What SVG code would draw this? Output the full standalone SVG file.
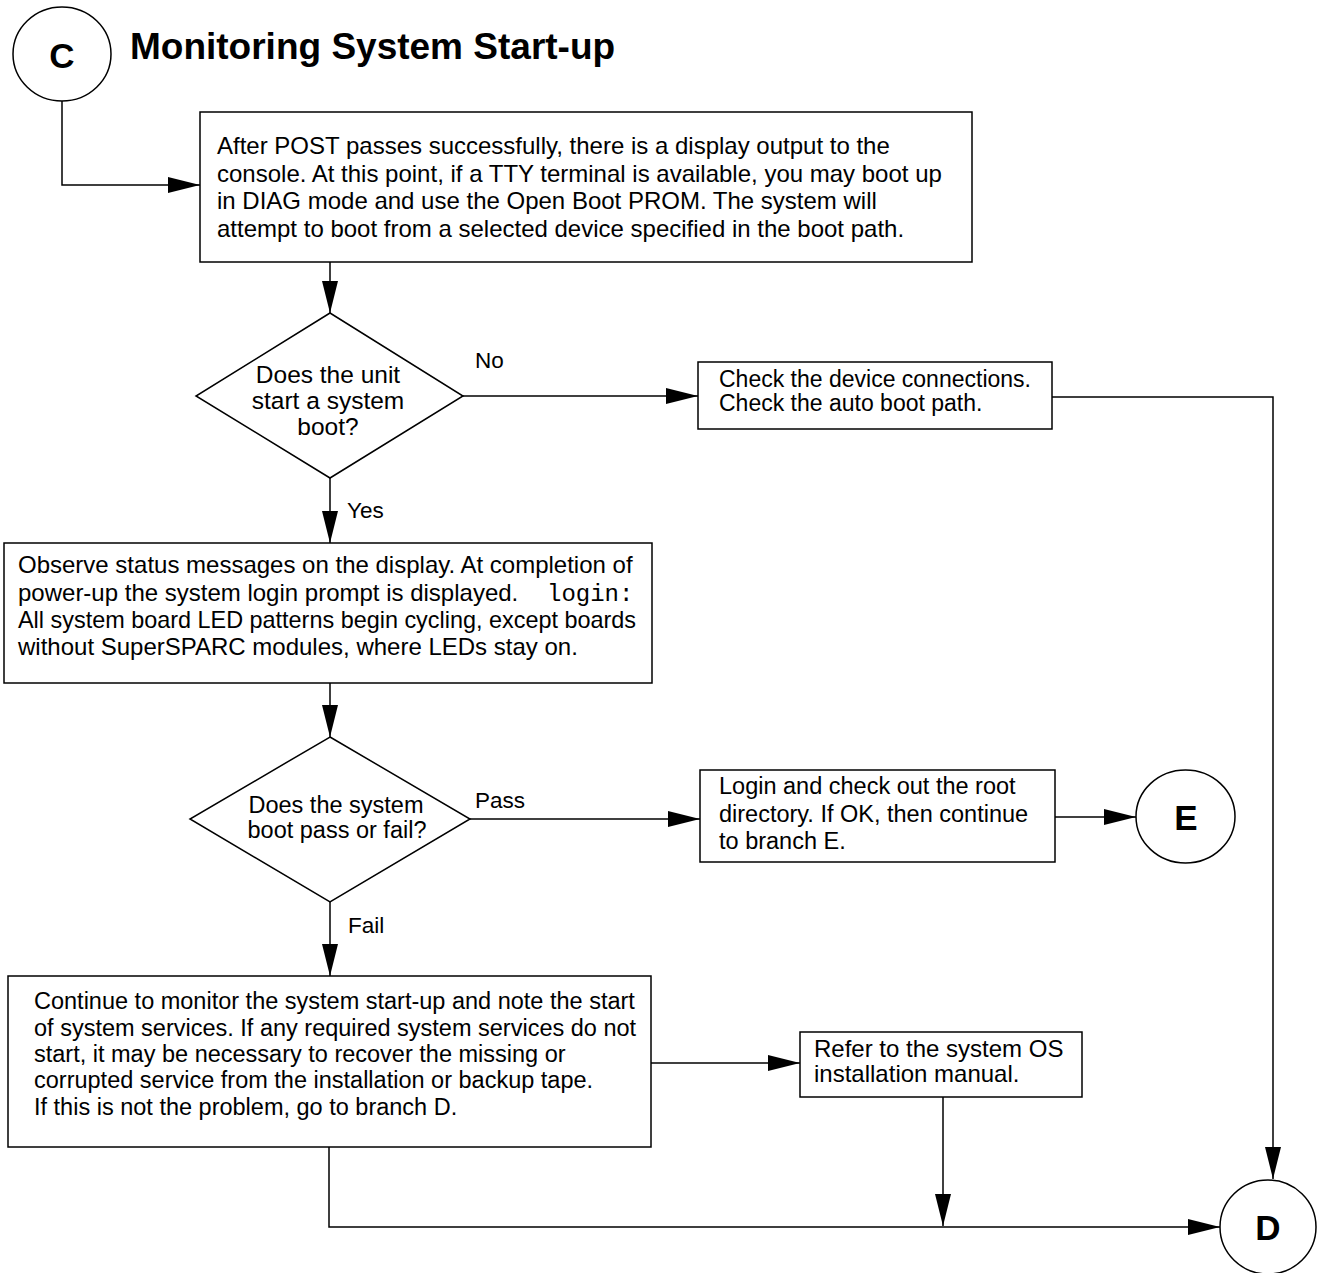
<svg xmlns="http://www.w3.org/2000/svg" width="1317" height="1273" viewBox="0 0 1317 1273">
<style>
.shape{fill:#fff;stroke:#000;stroke-width:1.5}
.conn{fill:none;stroke:#000;stroke-width:1.5}
text{font-family:"Liberation Sans",Arial,Helvetica,sans-serif;fill:#000}
.t{font-size:24px}
.t2{font-size:23.5px}
.lbl{font-size:22.5px}
.big{font-size:35px;font-weight:bold;text-anchor:middle}
.title{font-size:37px;font-weight:bold}
.mono{font-family:"Liberation Mono","Courier New",monospace}
.mid{text-anchor:middle}
</style>
<defs>
<marker id="arr" markerUnits="userSpaceOnUse" markerWidth="32" markerHeight="16" refX="32" refY="8" orient="auto">
<path d="M0,0 L32,8 L0,16 Z" fill="#000"/>
</marker>
</defs>
<text class="title" x="130" y="59">Monitoring System Start-up</text>
<g id="connectors">
<path class="conn" d="M62,100 V185 H200" marker-end="url(#arr)"/>
<path class="conn" d="M330,262 V313" marker-end="url(#arr)"/>
<path class="conn" d="M463,396 H698" marker-end="url(#arr)"/>
<path class="conn" d="M1052,397 H1273 V1179" marker-end="url(#arr)"/>
<path class="conn" d="M330,478 V543" marker-end="url(#arr)"/>
<path class="conn" d="M330,683 V737" marker-end="url(#arr)"/>
<path class="conn" d="M470,819 H700" marker-end="url(#arr)"/>
<path class="conn" d="M1055,817 H1136" marker-end="url(#arr)"/>
<path class="conn" d="M330,902 V976" marker-end="url(#arr)"/>
<path class="conn" d="M651,1063 H800" marker-end="url(#arr)"/>
<path class="conn" d="M943,1097 V1226" marker-end="url(#arr)"/>
<path class="conn" d="M329,1147 V1227 H1220" marker-end="url(#arr)"/>
<text class="lbl" x="475" y="368">No</text>
<text class="lbl" x="347" y="518">Yes</text>
<text class="lbl" x="475" y="808">Pass</text>
<text class="lbl" x="348" y="933">Fail</text>
</g>
<g id="nodeC">
<ellipse class="shape" cx="62" cy="54" rx="49" ry="47"/>
<text class="big" x="62" y="68">C</text>
</g>
<g id="box1">
<rect class="shape" x="200" y="112" width="772" height="150"/>
<text class="t" x="217" y="154">After POST passes successfully, there is a display output to the</text>
<text class="t" x="217" y="181.5">console. At this point, if a TTY terminal is available, you may boot up</text>
<text class="t" x="217" y="209">in DIAG mode and use the Open Boot PROM. The system will</text>
<text class="t" x="217" y="236.5">attempt to boot from a selected device specified in the boot path.</text>
</g>
<g id="diamond1">
<polygon class="shape" points="330,313 463,396 330,478 196,396"/>
<text class="mid" style="font-size:24.5px" x="328" y="383">Does the unit</text>
<text class="mid" style="font-size:24.5px" x="328" y="409">start a system</text>
<text class="mid" style="font-size:24.5px" x="328" y="435">boot?</text>
</g>
<g id="box2">
<rect class="shape" x="698" y="362" width="354" height="67"/>
<text style="font-size:23px" x="719" y="387">Check the device connections.</text>
<text style="font-size:23px" x="719" y="411">Check the auto boot path.</text>
</g>
<g id="box3">
<rect class="shape" x="4" y="543" width="648" height="140"/>
<text class="t" x="18" y="573">Observe status messages on the display. At completion of</text>
<text class="t" x="18" y="600.5">power-up the system login prompt is displayed. <tspan class="mono" x="547">login:</tspan></text>
<text class="t" x="18" y="627.5" textLength="618" lengthAdjust="spacingAndGlyphs">All system board LED patterns begin cycling, except boards</text>
<text class="t" x="18" y="655">without SuperSPARC modules, where LEDs stay on.</text>
</g>
<g id="diamond2">
<polygon class="shape" points="330,737 470,819 330,902 190,819"/>
<text class="t2 mid" x="336" y="813">Does the system</text>
<text class="t2 mid" x="337" y="838">boot pass or fail?</text>
</g>
<g id="box4">
<rect class="shape" x="700" y="770" width="355" height="92"/>
<text class="t2" x="719" y="794">Login and check out the root</text>
<text class="t2" x="719" y="821.5">directory. If OK, then continue</text>
<text class="t2" x="719" y="849">to branch E.</text>
</g>
<g id="nodeE">
<ellipse class="shape" cx="1185.5" cy="816.5" rx="49.5" ry="46.5"/>
<text class="big" x="1186" y="830">E</text>
</g>
<g id="box5">
<rect class="shape" x="8" y="976" width="643" height="171"/>
<text class="t2" x="34" y="1009">Continue to monitor the system start-up and note the start</text>
<text class="t2" x="34" y="1035.5">of system services. If any required system services do not</text>
<text class="t2" x="34" y="1062">start, it may be necessary to recover the missing or</text>
<text class="t2" x="34" y="1088">corrupted service from the installation or backup tape.</text>
<text class="t2" x="34" y="1114.5">If this is not the problem, go to branch D.</text>
</g>
<g id="box6">
<rect class="shape" x="800" y="1032" width="282" height="65"/>
<text class="t" x="814" y="1057">Refer to the system OS</text>
<text class="t" x="814" y="1082">installation manual.</text>
</g>
<g id="nodeD">
<ellipse class="shape" cx="1268" cy="1227" rx="48" ry="47"/>
<text class="big" x="1268" y="1240">D</text>
</g>
</svg>
